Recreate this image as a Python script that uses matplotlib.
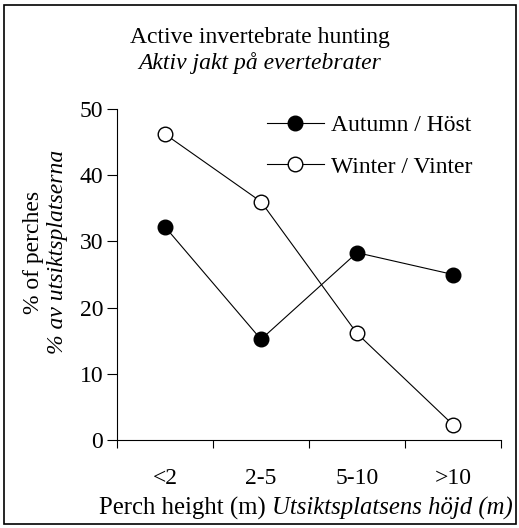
import matplotlib.pyplot as plt
from matplotlib.patches import Rectangle

categories = ["<2", "2-5", "5-10", ">10"]
autumn = [32.2, 15.2, 28.3, 25.0]
winter = [46.2, 36.0, 16.1, 2.3]
y_ticks = [0, 10, 20, 30, 40, 50]

plt.rcParams["font.family"] = ["Liberation Serif", "DejaVu Serif"]

W, H = 519, 528
FS = 17

fig = plt.figure(figsize=(W / 100, H / 100), dpi=100)
ax = fig.add_axes([117 / W, 1 - 440 / H, (501 - 117) / W, (440 - 109) / H])

x = list(range(1, len(categories) + 1))
ax.plot(x, autumn, color="black", lw=0.8, marker="o", ms=10.5,
        mfc="black", mec="black", label="Autumn / Höst")
ax.plot(x, winter, color="black", lw=0.8, marker="o", ms=10.5,
        mfc="white", mec="black", mew=1.0, label="Winter / Vinter")

ax.set_xlim(0.5, len(categories) + 0.5)
ax.set_ylim(0, 50)
ax.set_yticks(y_ticks)
ax.set_xticks([i + 0.5 for i in range(len(categories) + 1)])
ax.set_xticklabels([])
ax.set_xticks(x, minor=True)
ax.set_xticklabels(categories, minor=True)
ax.tick_params(axis="x", which="minor", length=0, pad=20, labelsize=FS)
ax.tick_params(axis="x", which="major", length=6, width=0.8, direction="out")
ax.tick_params(axis="y", length=7, width=0.8, direction="out", labelsize=FS, pad=3)
for s in ["top", "right"]:
    ax.spines[s].set_visible(False)
for s in ["left", "bottom"]:
    ax.spines[s].set_linewidth(0.8)

ax.legend(loc="upper left", bbox_to_anchor=(0.366, 1.012), frameon=False,
          fontsize=FS, handlelength=2.4, handletextpad=0.3, labelspacing=0.85,
          borderaxespad=0.0)

fig.text(0.5, 1 - 38 / H, "Active invertebrate hunting", ha="center", va="center", fontsize=FS)
fig.text(0.5, 1 - 63 / H, "Aktiv jakt på evertebrater", ha="center", va="center",
         fontsize=FS, style="italic")
fig.text(33 / W, 1 - 252 / H, "% of perches", rotation=90, ha="center", va="center", fontsize=FS)
fig.text(58 / W, 1 - 252 / H, "% av utsiktsplatserna", rotation=90, ha="center", va="center",
         fontsize=FS, style="italic")

# x label: upright part followed by italic part, centred as one line
renderer = fig.canvas.get_renderer()
t1 = fig.text(0, 1 - 508 / H, "Perch height (m) ", ha="left", va="center", fontsize=17.8)
t2 = fig.text(0, 1 - 508 / H, "Utsiktsplatsens höjd (m)", ha="left", va="center",
              fontsize=17.8, style="italic")
w1 = t1.get_window_extent(renderer).width
w2 = t2.get_window_extent(renderer).width
x0 = 306 - (w1 + w2) / 2
t1.set_x(x0 / W)
t2.set_x((x0 + w1) / W)

fig.patches.append(Rectangle((4 / W, 4 / H), 512 / W, 519 / H, transform=fig.transFigure,
                             fill=False, edgecolor="black", lw=1.2))

fig.savefig("out.png", dpi=100)
